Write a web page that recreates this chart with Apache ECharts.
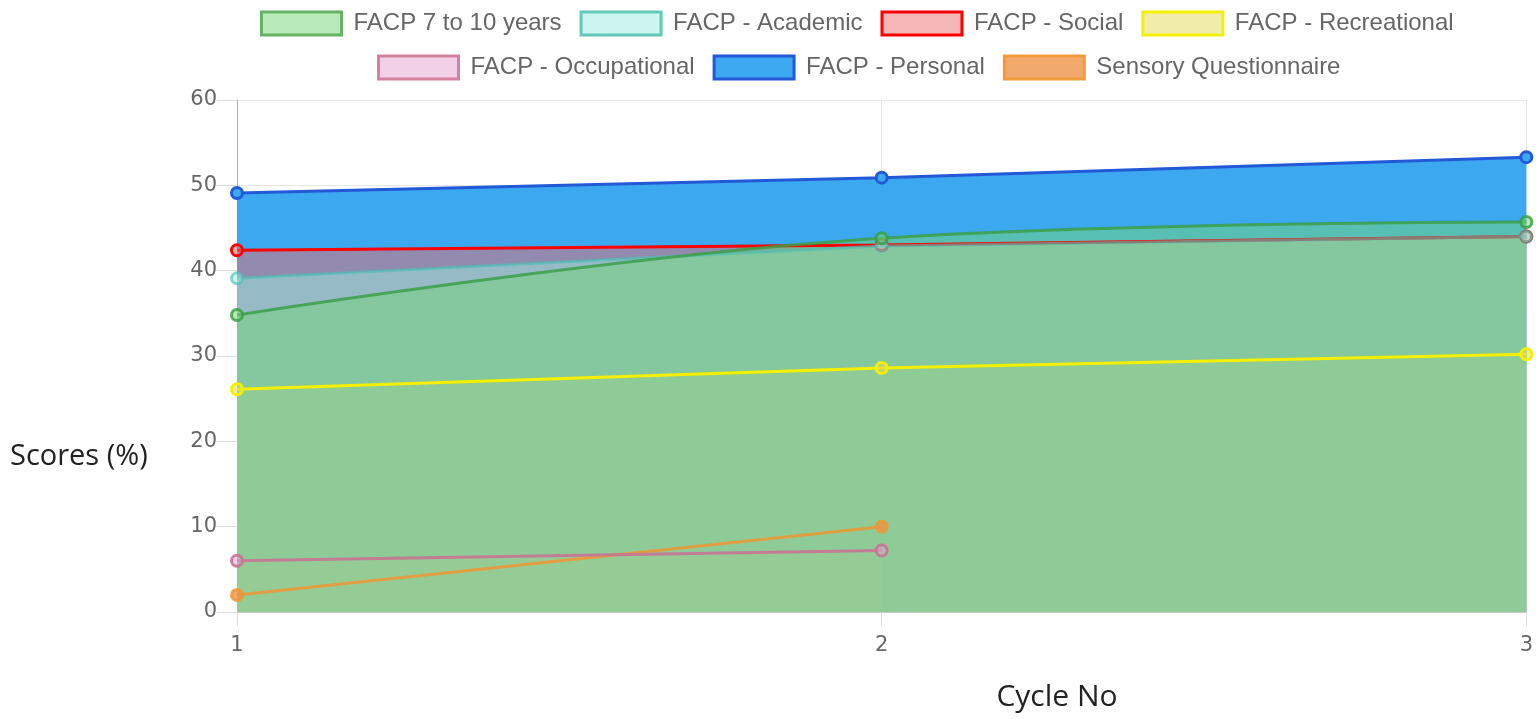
<!DOCTYPE html>
<html>
<head>
<meta charset="utf-8">
<script src="https://cdn.jsdelivr.net/npm/echarts@6/dist/echarts.min.js"></script>
<style>
html,body{margin:0;padding:0;background:#fff;}
#chart{width:1536px;height:719px;}
</style>
</head>
<body>
<div id="chart"></div>
<script>
// ---- data ----
const cycles = ['1', '2', '3'];
const seriesNames = ['FACP 7 to 10 years', 'FACP - Academic', 'FACP - Social', 'FACP - Recreational',
                     'FACP - Occupational', 'FACP - Personal', 'Sensory Questionnaire'];
const facp710 = [34.8, 43.8, 45.7];
const facpAcademic = [39.1, 42.9, 44.0];
const facpSocial = [42.4, 43.0, 44.0];
const facpRecreational = [26.1, 28.6, 30.2];
const facpOccupational = [6.0, 7.2, null];
const facpPersonal = [49.1, 50.9, 53.3];
const sensory = [2.0, 10.0, null];
const yTicks = [0, 10, 20, 30, 40, 50, 60];

// ---- styles ----
const values = [facp710, facpAcademic, facpSocial, facpRecreational, facpOccupational, facpPersonal, sensory];
const lineColors = ['rgba(60,160,70,0.85)', 'rgba(75,192,180,0.65)', 'rgb(255,0,0)', 'rgb(245,240,0)',
                    'rgba(200,115,150,0.9)', 'rgb(35,88,215)', 'rgba(240,150,50,0.85)'];
const legendBorders = ['rgb(100,180,100)', 'rgb(100,200,185)', 'rgb(255,0,0)', 'rgb(245,240,0)',
                       'rgb(210,130,160)', 'rgb(35,88,215)', 'rgb(242,155,60)'];
const fillColors = ['rgba(115,213,120,0.5)', 'rgba(153,235,223,0.5)', 'rgba(235,110,110,0.5)', 'rgba(225,217,85,0.5)',
                    'rgba(229,161,209,0.5)', 'rgb(59,168,240)', 'rgba(238,146,71,0.8)'];
const smoothness = [0.4, 0, 0, 0, 0, 0, 0];

const series = [];
const n = seriesNames.length;
for (let i = 0; i < n; i++) {
  // area (drawn in reverse order: first dataset on top)
  series.push({
    name: seriesNames[i], type: 'line', data: values[i], z: 2 + (n - i),
    smooth: smoothness[i], showSymbol: false, symbol: 'none',
    lineStyle: { width: 0, opacity: 0 },
    areaStyle: { color: fillColors[i], opacity: 1, origin: 'start' },
    itemStyle: { color: fillColors[i] },
    silent: true, animation: false
  });
}
for (let i = 0; i < n; i++) {
  series.push({
    name: seriesNames[i], type: 'line', data: values[i], z: 20 + (n - i),
    smooth: smoothness[i], symbol: 'circle', symbolSize: 11, showSymbol: true,
    lineStyle: { width: 3, color: lineColors[i] },
    itemStyle: { color: fillColors[i], borderColor: lineColors[i], borderWidth: 3 },
    animation: false
  });
}

function legendItems(from, to) {
  const out = [];
  for (let i = from; i < to; i++) {
    out.push({ name: seriesNames[i], icon: 'rect',
      itemStyle: { color: fillColors[i], borderColor: legendBorders[i], borderWidth: 3, opacity: 1 } });
  }
  return out;
}
const legendCommon = {
  orient: 'horizontal', itemWidth: 80, itemHeight: 23, itemGap: 18, padding: 0,
  textStyle: { fontFamily: 'Liberation Sans, Arial, sans-serif', fontSize: 24, lineHeight: 27, color: '#666', padding: [0, 0, 0, 7] },
  selectedMode: false
};

const chart = echarts.init(document.getElementById('chart'));
chart.setOption({
  animation: false,
  backgroundColor: '#fff',
  legend: [
    Object.assign({ left: 260, top: 10, data: legendItems(0, 4) }, legendCommon),
    Object.assign({ left: 377, top: 54, data: legendItems(4, 7) }, legendCommon)
  ],
  grid: { left: 237, right: 8, top: 100, bottom: 107, containLabel: false },
  xAxis: {
    type: 'category', data: cycles, boundaryGap: false,
    axisLine: { lineStyle: { color: '#c8c8c8', width: 1 } },
    axisTick: { show: true, length: 14, lineStyle: { color: '#dcdcdc' } },
    axisLabel: { color: '#666', fontSize: 21, fontFamily: 'DejaVu Sans', margin: 23 },
    splitLine: { show: true, lineStyle: { color: '#e6e6e6' } }
  },
  yAxis: {
    type: 'value', min: yTicks[0], max: yTicks[yTicks.length - 1], interval: 10,
    axisLine: { show: true, lineStyle: { color: '#b0b0b0', width: 1 } },
    axisTick: { show: true, length: 20, lineStyle: { color: '#dcdcdc' } },
    axisLabel: { color: '#666', fontSize: 21, fontFamily: 'DejaVu Sans', margin: 20 },
    splitLine: { show: true, lineStyle: { color: '#e6e6e6' } }
  },
  graphic: [
    { type: 'text', x: 10, y: 457, style: { text: 'Scores (%)', font: '29px "Open Sans"', fill: '#222', align: 'left', verticalAlign: 'middle' } },
    { type: 'text', x: 1057, y: 697, style: { text: 'Cycle No', font: '30px "Open Sans"', fill: '#222', align: 'center', verticalAlign: 'middle' } }
  ],
  series: series
});
</script>
</body>
</html>
